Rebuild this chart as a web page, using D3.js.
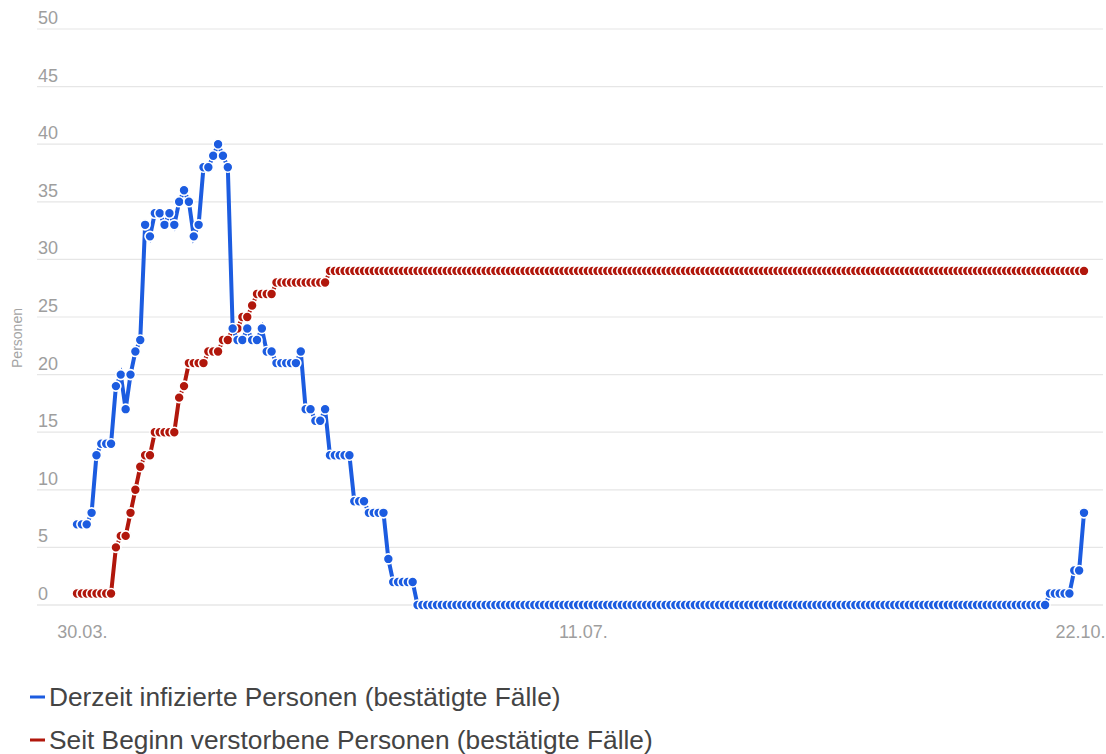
<!DOCTYPE html>
<html>
<head>
<meta charset="utf-8">
<script src="https://cdn.jsdelivr.net/npm/d3@7"></script>
<style>
  body { margin: 0; background: #fff; }
  svg { display: block; font-family: "Liberation Sans", Arial, sans-serif; }
</style>
</head>
<body>
<svg id="chart" width="1106" height="754"></svg>
<script>
// Tagesreihe ab 29.03.2020 bis 22.10.2020 (208 Tage)
const startDate = new Date(Date.UTC(2020, 2, 29));

const infected = [
  7, 7, 7, 8, 13, 14, 14, 14, 19, 20, 17, 20, 22, 23,
  33, 32, 34, 34, 33, 34, 33, 35, 36, 35, 32, 33, 38, 38, 39, 40, 39, 38,
  24, 23, 23, 24, 23, 23, 24, 22, 22,
  21, 21, 21, 21, 21, 22, 17, 17, 16, 16, 17,
  13, 13, 13, 13, 13, 9, 9, 9, 8, 8, 8, 8, 4, 2, 2, 2, 2, 2,
  ...Array(130).fill(0),
  1, 1, 1, 1, 1, 3, 3, 8
];

const deceased = [
  1, 1, 1, 1, 1, 1, 1, 1, 5, 6, 6, 8, 10, 12, 13, 13,
  15, 15, 15, 15, 15, 18, 19, 21, 21, 21, 21, 22, 22, 22, 23, 23,
  24, 24, 25, 25, 26, 27, 27, 27, 27,
  28, 28, 28, 28, 28, 28, 28, 28, 28, 28, 28,
  ...Array(156).fill(29)
];

const yTicks = [0, 5, 10, 15, 20, 25, 30, 35, 40, 45, 50];
const xTickDates = [
  new Date(Date.UTC(2020, 2, 30)),
  new Date(Date.UTC(2020, 6, 11)),
  new Date(Date.UTC(2020, 9, 22))
];
const seriesNames = [
  "Derzeit infizierte Personen (bestätigte Fälle)",
  "Seit Beginn verstorbene Personen (bestätigte Fälle)"
];
const colors = ["#1c5ce0", "#b1170c"];

const dayMs = 24 * 3600 * 1000;
const dateOf = i => new Date(startDate.getTime() + i * dayMs);

const svg = d3.select("#chart");

const x = d3.scaleUtc()
  .domain([startDate, dateOf(infected.length - 1)])
  .range([77, 1084]);
const y = d3.scaleLinear().domain([0, 50]).range([605, 29]);

// Gitterlinien
const grid = svg.append("g");
grid.selectAll("line").data(yTicks).join("line")
  .attr("x1", 37).attr("x2", 1103)
  .attr("y1", d => y(d)).attr("y2", d => y(d))
  .attr("stroke", d => d === 0 ? "#dcdcdc" : "#e6e6e6")
  .attr("stroke-width", 1.2);

grid.selectAll("text").data(yTicks).join("text")
  .attr("x", 38).attr("y", d => y(d) - 5)
  .attr("fill", "#9e9e9e").attr("font-size", 18)
  .text(d => d);

// X-Achse
const xAxis = d3.axisBottom(x)
  .tickValues(xTickDates)
  .tickSize(0)
  .tickFormat(d3.utcFormat("%d.%m."));
const xg = svg.append("g").attr("transform", "translate(0,622)").call(xAxis);
xg.select(".domain").remove();
xg.selectAll("text").attr("fill", "#9e9e9e").attr("font-size", 18)
  .attr("font-family", "Liberation Sans, Arial, sans-serif");
// letztes Label am rechten Rand halten
xg.selectAll(".tick").filter((d, i) => i === xTickDates.length - 1)
  .select("text").attr("text-anchor", "end").attr("dx", 1105 - x(xTickDates[2]));

// Achsentitel
svg.append("text")
  .attr("transform", "translate(22,338) rotate(-90)")
  .attr("text-anchor", "middle")
  .attr("fill", "#a4a4a4").attr("font-size", 14)
  .text("Personen");

const line = d3.line()
  .x((d, i) => x(dateOf(i)))
  .y(d => y(d));

// Verstorbene zuerst, Infizierte darüber
[deceased, infected].forEach((series, k) => {
  const color = k === 0 ? colors[1] : colors[0];
  const g = svg.append("g");
  g.append("path")
    .datum(series)
    .attr("d", line)
    .attr("fill", "none")
    .attr("stroke", color)
    .attr("stroke-width", 4);
  g.selectAll("circle").data(series).join("circle")
    .attr("cx", (d, i) => x(dateOf(i)))
    .attr("cy", d => y(d))
    .attr("r", 5)
    .attr("fill", color)
    .attr("stroke", "#fff")
    .attr("stroke-width", 1.6);
});

// Legende
const legend = svg.append("g");
seriesNames.forEach((name, i) => {
  const ly = 697 + i * 43;
  legend.append("rect")
    .attr("x", 30).attr("y", ly - 1.5)
    .attr("width", 15).attr("height", 3)
    .attr("fill", colors[i]);
  legend.append("text")
    .attr("x", 49).attr("y", ly + 9)
    .attr("fill", "#444").attr("font-size", 26.3)
    .text(name);
});
</script>
</body>
</html>
